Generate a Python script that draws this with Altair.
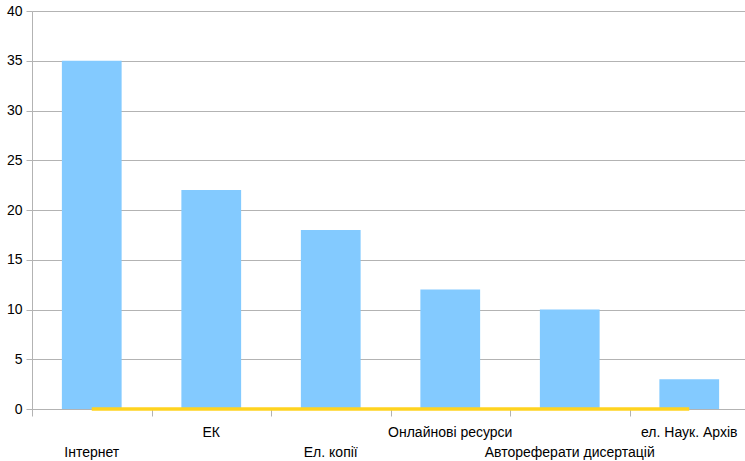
import altair as alt
import pandas as pd

# Categories and counts
categories = ["Інтернет", "ЕК", "Ел. копії", "Онлайнові ресурси",
              "Автореферати дисертацій", "ел. Наук. Архів"]
counts = [35, 22, 18, 12, 10, 3]
baseline_series = [0, 0, 0, 0, 0, 0]
label_row = [1, 0, 1, 0, 1, 0]  # 0 = upper row, 1 = lower row

df = pd.DataFrame({
    "cat": categories,
    "count": counts,
    "base": baseline_series,
    "row": label_row,
})

W, H = 713, 398
FONT = "Liberation Sans"

# Full-width bands so the axis ticks sit on the category boundaries;
# the bars themselves take half of each band.
x_scale = alt.Scale(domain=categories, range=[0, 717],
                    paddingInner=0, paddingOuter=0)

x_enc = alt.X("cat:N", sort=categories, scale=x_scale,
              axis=alt.Axis(title=None, labels=False, tickBand="extent",
                            tickSize=7, tickColor="#b3b3b3",
                            domainColor="#b3b3b3", grid=False))

y_enc = alt.Y("count:Q", scale=alt.Scale(domain=[0, 40], nice=False),
              axis=alt.Axis(title=None, values=[0, 5, 10, 15, 20, 25, 30, 35, 40],
                            tickSize=6, labelPadding=4, labelFontSize=14,
                            labelFont=FONT, labelColor="#000000",
                            tickColor="#b3b3b3", domainColor="#b3b3b3",
                            gridColor="#b3b3b3", gridWidth=1))

bars = alt.Chart(df).mark_bar(
    color="#83CAFF", width=alt.RelativeBandSize(0.5)
).encode(x=x_enc, y=y_enc)

line = alt.Chart(df).mark_line(color="#FFD320", strokeWidth=3.5,
                               strokeCap="butt").encode(
    x=alt.X("cat:N", sort=categories, scale=x_scale),
    y=alt.Y("base:Q"),
)

upper = alt.Chart(df).transform_filter("datum.row == 0").mark_text(
    font=FONT, fontSize=14, color="#000000", baseline="alphabetic"
).encode(
    x=alt.X("cat:N", sort=categories, scale=x_scale),
    y=alt.value(H + 28),
    text="cat:N",
)

lower = alt.Chart(df).transform_filter("datum.row == 1").mark_text(
    font=FONT, fontSize=14, color="#000000", baseline="alphabetic"
).encode(
    x=alt.X("cat:N", sort=categories, scale=x_scale),
    y=alt.value(H + 48),
    text="cat:N",
)

chart = alt.layer(bars, line, upper, lower).properties(
    width=W, height=H,
    autosize=alt.AutoSizeParams(type="none"),
    padding={"left": 32, "top": 11, "right": 0, "bottom": 52},
).configure_view(stroke=None).configure(background="#ffffff")

chart.save("out.html", embed_options={"renderer": "svg", "actions": False})
